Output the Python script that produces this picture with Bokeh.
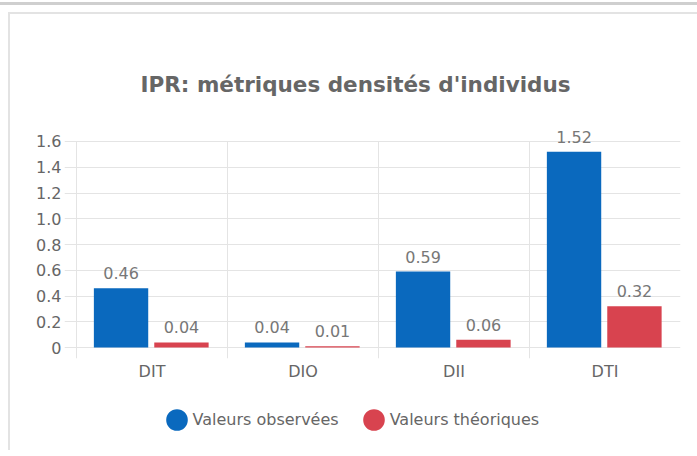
import numpy as np
from bokeh.plotting import figure
from bokeh.layouts import column
from bokeh.models import (ColumnDataSource, FixedTicker, Range1d, Legend, LegendItem,
                          Title, LabelSet, Div)
from bokeh.core.properties import value
from bokeh.embed import file_html
from bokeh.resources import INLINE

categories = ["DIT", "DIO", "DII", "DTI"]
observed = [0.46, 0.04, 0.59, 1.52]
theoretical = [0.04, 0.01, 0.06, 0.32]
series_names = ["Valeurs observées", "Valeurs théoriques"]
y_ticks = [0, 0.2, 0.4, 0.6, 0.8, 1.0, 1.2, 1.4, 1.6]
y_tick_labels = ["0", "0.2", "0.4", "0.6", "0.8", "1.0", "1.2", "1.4", "1.6"]

BLUE = "#0a69be"
RED = "#d8434f"
GRID = "#e4e4e4"
FONT = "DejaVu Sans"

idx = np.arange(len(categories)) + 0.5
src_obs = ColumnDataSource(dict(x=idx - 0.205, top=observed,
                                lab=[f"{v:.2f}" for v in observed]))
src_th = ColumnDataSource(dict(x=idx + 0.195, top=theoretical,
                               lab=[f"{v:.2f}" for v in theoretical]))

y_start = -0.085
p = figure(width=687, height=374, output_backend="svg", toolbar_location=None,
           x_range=Range1d(-0.0795, 4.0), y_range=Range1d(y_start, 1.763),
           min_border_left=54, min_border_right=17, min_border_top=106,
           min_border_bottom=30)
p.outline_line_color = None
p.background_fill_color = "white"
p.border_fill_color = "white"

t = Title(text="IPR: métriques densités d'individus", align="left",
          text_font=FONT, text_font_size="21.5px", text_font_style="bold",
          text_color="#666666", offset=76, standoff=48)
p.add_layout(t, "above")

# category separators (vertical grid), from the zero area up to the top tick
bounds = np.arange(len(categories)).astype(float)
p.segment(x0=bounds, x1=bounds, y0=[y_start] * len(bounds), y1=[y_ticks[-1]] * len(bounds),
          line_color=GRID, line_width=1)

r1 = p.vbar(x="x", top="top", width=0.36, bottom=0, source=src_obs,
            fill_color=BLUE, line_color=None)
r2 = p.vbar(x="x", top="top", width=0.36, bottom=0, source=src_th,
            fill_color=RED, line_color=None)

for s in (src_obs, src_th):
    p.add_layout(LabelSet(x="x", y="top", text="lab", source=s, text_align="center",
                          text_baseline="alphabetic", y_offset=9,
                          text_font=value(FONT), text_font_size=value("16px"),
                          text_color=value("#777777")))

# axes
p.xaxis.ticker = FixedTicker(ticks=list(idx))
p.xaxis.major_label_overrides = {float(v): c for v, c in zip(idx, categories)}
p.yaxis.ticker = FixedTicker(ticks=y_ticks)
p.yaxis.major_label_overrides = {float(v): l for v, l in zip(y_ticks, y_tick_labels)}
for ax in (p.xaxis, p.yaxis):
    ax.axis_line_color = None
    ax.major_tick_line_color = None
    ax.minor_tick_line_color = None
    ax.major_tick_out = 0
    ax.major_tick_in = 0
    ax.minor_tick_out = 0
    ax.minor_tick_in = 0
    ax.major_label_text_font = FONT
    ax.major_label_text_font_size = "16px"
    ax.major_label_text_color = "#666666"
p.yaxis.major_label_standoff = 3
p.xaxis.major_label_standoff = 3

p.xgrid.visible = False
p.ygrid.grid_line_color = GRID

# legend in its own strip below the chart (frames are aligned by the column)
lg = figure(width=687, height=62, output_backend="svg", toolbar_location=None,
            x_range=Range1d(0, 1), y_range=Range1d(0, 1),
            min_border=0, min_border_left=54, min_border_right=17,
            min_border_top=0, min_border_bottom=0)
lg.axis.visible = False
lg.grid.visible = False
lg.outline_line_color = None
lg.border_fill_color = "white"
d1 = lg.ellipse(x=[np.nan], y=[np.nan], width=10, height=10, width_units="screen",
                height_units="screen", fill_color=BLUE, line_color=None)
d2 = lg.ellipse(x=[np.nan], y=[np.nan], width=10, height=10, width_units="screen",
                height_units="screen", fill_color=RED, line_color=None)
legend = Legend(items=[LegendItem(label=series_names[0], renderers=[d1]),
                       LegendItem(label=series_names[1], renderers=[d2])],
                orientation="horizontal", location=(98.5, 17.5),
                glyph_width=27, glyph_height=27, label_standoff=3,
                spacing=21, padding=0, margin=0,
                border_line_color=None, background_fill_alpha=0,
                label_text_font=FONT, label_text_font_size="16px",
                label_text_color="#666666")
lg.add_layout(legend, "center")

topbar = Div(width=697, height=3, margin=(2, 0, 0, 0),
             styles={"background-color": "#cfcfcf"})
card = column(p, lg, spacing=0, margin=(7, 0, 0, 8),
              styles={"border-top": "2px solid #e3e3e3",
                      "border-left": "2px solid #e3e3e3"})
layout = column(topbar, card, spacing=0)
open("out.html", "w").write(file_html(layout, INLINE))
